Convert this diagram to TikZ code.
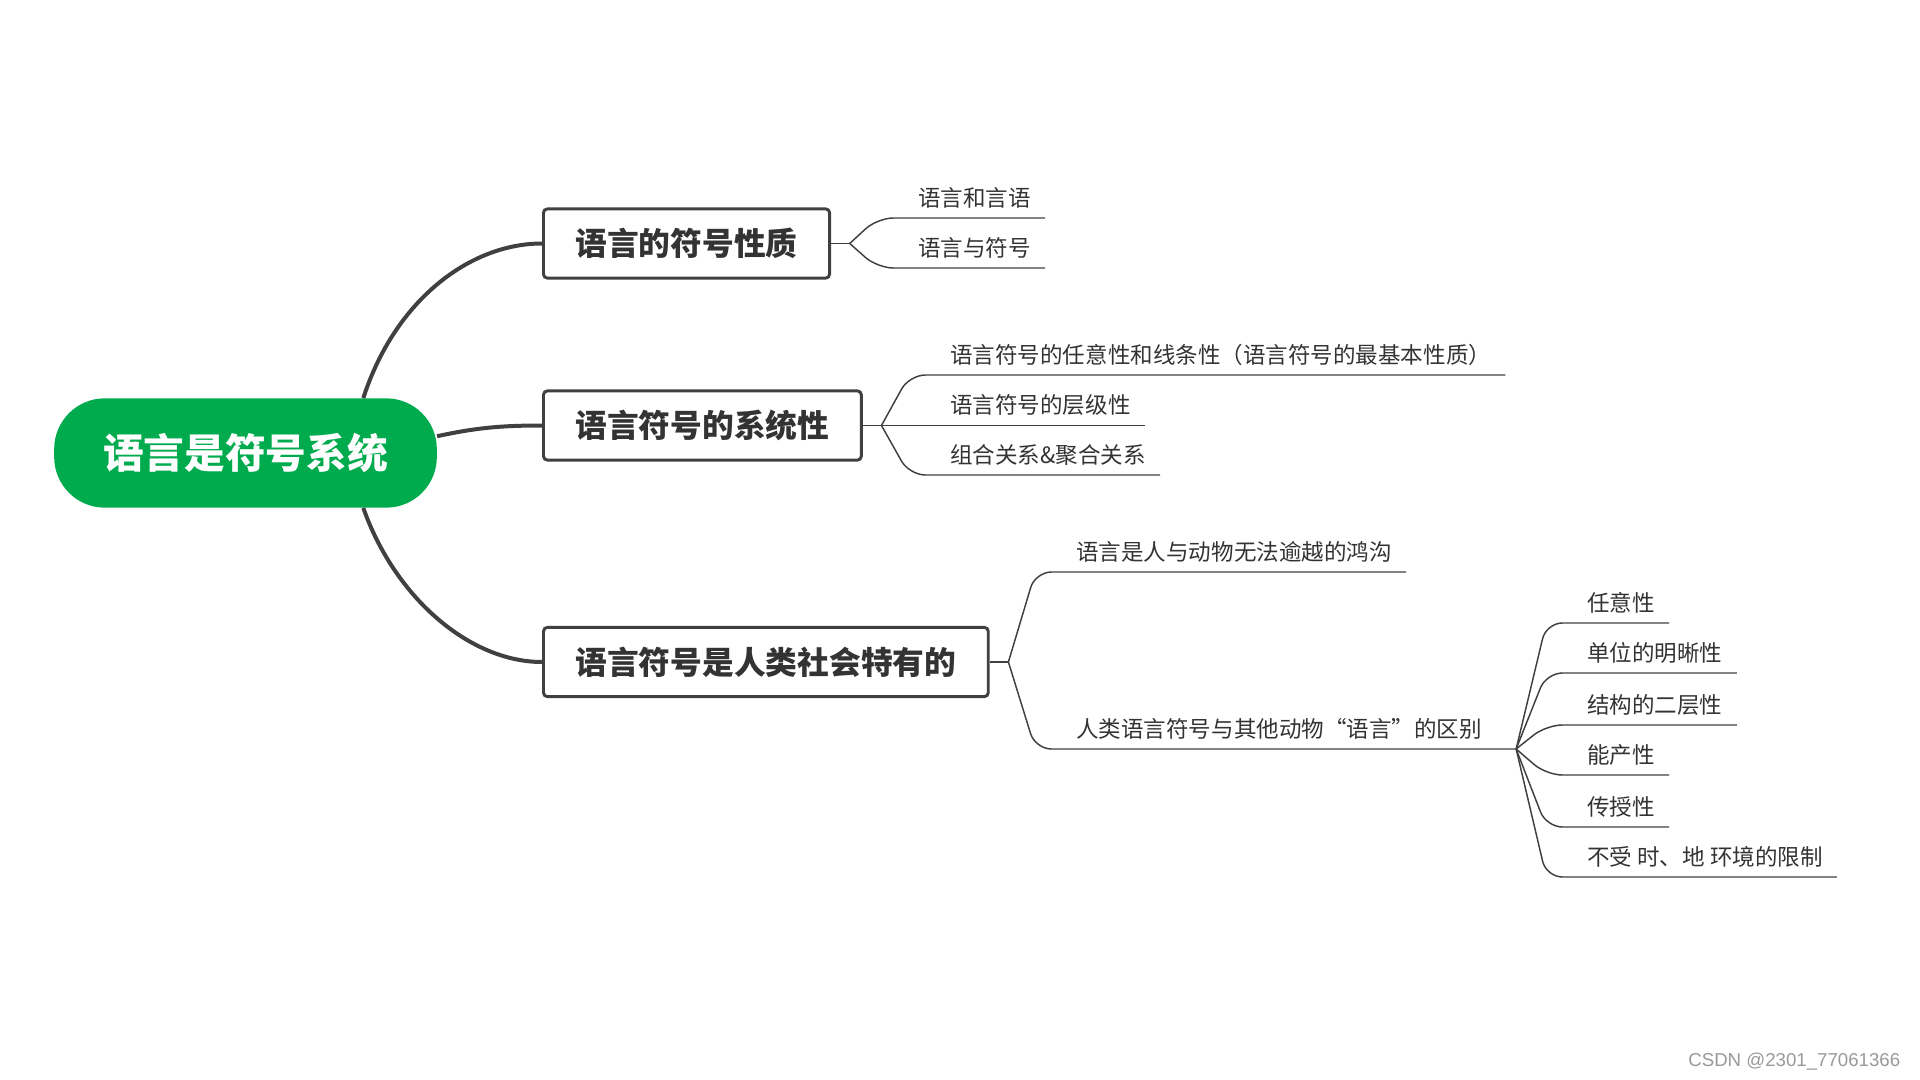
\documentclass[tikz,border=0pt]{standalone}
\usepackage{fontspec}
\setmainfont{Noto Sans CJK SC}
\newfontfamily\wmfont{Liberation Sans}
\definecolor{rootgreen}{HTML}{00AB4E}
\definecolor{linegray}{HTML}{404040}
\definecolor{textdark}{HTML}{333333}
\definecolor{wmgray}{HTML}{999999}
\tikzset{
  root/.style={fill=rootgreen, text=white, rounded corners=38pt, minimum width=287pt, minimum height=82pt, font=\bfseries\fontsize{30.5}{34}\selectfont},
  topic/.style={draw=linegray, line width=2.2pt, rounded corners=3pt, fill=white, text=textdark, inner xsep=24pt, minimum height=52pt, anchor=west, font=\bfseries\fontsize{23.8}{28}\selectfont},
  leaf/.style={text=textdark, inner xsep=10.5pt, inner ysep=0pt, text depth=8.5pt, anchor=south west, font=\fontsize{16.9}{20}\selectfont},
  trunk/.style={draw=linegray, line width=3pt},
  twig/.style={draw=linegray, line width=1.1pt, rounded corners=12pt},
}
\begin{document}
\begin{tikzpicture}[x=0.75pt, y=-0.75pt]
    \useasboundingbox (0,0) rectangle (1920,1080);
    \node[root] (r) at (245.5, 453) {语言是符号系统};
    \node[topic] (b1) at (542, 243.5) {语言的符号性质};
    \node[topic] (b2) at (542, 425.5) {语言符号的系统性};
    \node[topic] (b3) at (542, 662) {语言符号是人类社会特有的};
    \draw[trunk] (r.25) .. controls (395, 300) and (470, 243.5) .. (b1.west);
    \draw[trunk] (r.5) .. controls (475, 428) and (500, 425.5) .. (b2.west);
    \draw[trunk] (r.-25) .. controls (395, 598) and (470, 662) .. (b3.west);
    % first topic
    \coordinate (f1) at ([xshift=14pt]b1.east);
    \draw[twig] (b1.east) -- (f1);
    \node[leaf] (a1) at (904, 218) {语言和言语};
    \node[leaf] (a2) at (904, 268) {语言与符号};
    \draw[twig] (f1) -- ([xshift=-20pt]a1.south west) -- (a1.south east);
    \draw[twig] (f1) -- ([xshift=-20pt]a2.south west) -- (a2.south east);
    % second topic
    \coordinate (f2) at ([xshift=14pt]b2.east);
    \draw[twig] (b2.east) -- (f2);
    \node[leaf] (s1) at (936, 375) {语言符号的任意性和线条性（语言符号的最基本性质）};
    \node[leaf] (s2) at (936, 425.5) {语言符号的层级性};
    \node[leaf] (s3) at (936, 475) {组合关系\&聚合关系};
    \draw[twig] (f2) -- ([xshift=-20pt]s1.south west) -- (s1.south east);
    \draw[twig] (f2) -- (s2.south east);
    \draw[twig] (f2) -- ([xshift=-20pt]s3.south west) -- (s3.south east);
    % third topic
    \coordinate (f3) at ([xshift=14pt]b3.east);
    \draw[twig] (b3.east) -- (f3);
    \node[leaf] (c1) at (1062, 572) {语言是人与动物无法逾越的鸿沟};
    \node[leaf] (c2) at (1062, 749) {人类语言符号与其他动物“语言”的区别};
    \coordinate (f4) at ([xshift=15pt]c2.south east);
    \draw[twig] (f3) -- ([xshift=-20pt]c1.south west) -- (c1.south east);
    \draw[twig] (f3) -- ([xshift=-20pt]c2.south west) -- (f4);
    \node[leaf] (d1) at (1573, 623) {任意性};
    \node[leaf] (d2) at (1573, 673) {单位的明晰性};
    \node[leaf] (d3) at (1573, 725) {结构的二层性};
    \node[leaf] (d4) at (1573, 775) {能产性};
    \node[leaf] (d5) at (1573, 827) {传授性};
    \node[leaf] (d6) at (1573, 877) {不受 时、地 环境的限制};
    \draw[twig] (f4) -- ([xshift=-20pt]d1.south west) -- (d1.south east);
    \draw[twig] (f4) -- ([xshift=-20pt]d2.south west) -- (d2.south east);
    \draw[twig] (f4) -- ([xshift=-20pt]d3.south west) -- (d3.south east);
    \draw[twig] (f4) -- ([xshift=-20pt]d4.south west) -- (d4.south east);
    \draw[twig] (f4) -- ([xshift=-20pt]d5.south west) -- (d5.south east);
    \draw[twig] (f4) -- ([xshift=-20pt]d6.south west) -- (d6.south east);
    \node[font=\wmfont\fontsize{14}{16}\selectfont, text=wmgray, anchor=east] (wm) at (1905, 1062) {CSDN @2301\_77061366};
\end{tikzpicture}
\end{document}
